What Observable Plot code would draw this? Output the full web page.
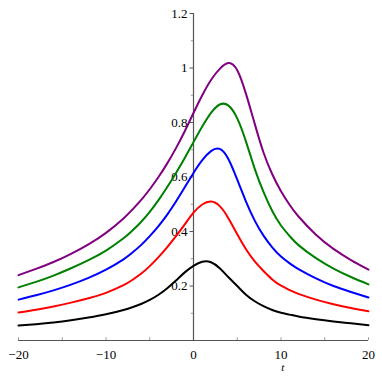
<!DOCTYPE html>
<html>
<head>
<meta charset="utf-8">
<script src="https://cdn.jsdelivr.net/npm/d3@7"></script>
<script src="https://cdn.jsdelivr.net/npm/@observablehq/plot@0.6"></script>
<style>
  html, body { margin: 0; padding: 0; background: #fff; }
  #chart svg { display: block; }
  #chart svg text { font-family: "Liberation Serif", "Times New Roman", "DejaVu Serif", serif !important; }
</style>
</head>
<body>
<div id="chart"></div>
<script>
// Curve samples (t, value)
const tGrid   = [-20, -18, -16, -14, -12, -10, -8, -7, -6, -5, -4, -3, -2, -1, 0, 1, 2, 3, 4, 5, 6, 7, 8, 9, 10, 11, 12, 14, 16, 18, 20];
const yBlack  = [0.055, 0.060, 0.066, 0.074, 0.084, 0.096, 0.112, 0.122, 0.134, 0.149, 0.168, 0.192, 0.220, 0.250, 0.274, 0.289, 0.287, 0.265, 0.232, 0.200, 0.168, 0.144, 0.126, 0.112, 0.102, 0.095, 0.088, 0.078, 0.070, 0.063, 0.056];
const yRed    = [0.103, 0.113, 0.125, 0.139, 0.155, 0.175, 0.203, 0.222, 0.245, 0.273, 0.306, 0.343, 0.383, 0.426, 0.469, 0.499, 0.510, 0.493, 0.448, 0.390, 0.335, 0.290, 0.255, 0.224, 0.201, 0.185, 0.171, 0.150, 0.133, 0.119, 0.107];
const yBlue   = [0.150, 0.166, 0.184, 0.205, 0.230, 0.260, 0.298, 0.322, 0.350, 0.383, 0.420, 0.462, 0.510, 0.562, 0.615, 0.662, 0.695, 0.703, 0.665, 0.590, 0.510, 0.440, 0.385, 0.342, 0.308, 0.283, 0.262, 0.228, 0.200, 0.178, 0.158];
const yGreen  = [0.195, 0.215, 0.238, 0.265, 0.295, 0.330, 0.375, 0.403, 0.435, 0.472, 0.515, 0.563, 0.615, 0.670, 0.728, 0.785, 0.835, 0.866, 0.862, 0.815, 0.730, 0.630, 0.545, 0.475, 0.422, 0.383, 0.350, 0.302, 0.264, 0.233, 0.206];
const yPurple = [0.240, 0.263, 0.288, 0.318, 0.353, 0.395, 0.448, 0.480, 0.515, 0.555, 0.600, 0.650, 0.706, 0.768, 0.835, 0.900, 0.956, 0.997, 1.018, 0.992, 0.905, 0.795, 0.690, 0.610, 0.548, 0.497, 0.455, 0.388, 0.336, 0.295, 0.260];

const seriesNames  = ["black", "red", "blue", "green", "purple"];
const seriesColors = ["#000000", "#ff0000", "#0000ff", "#008000", "#800080"];

const xTickValues = [-20, -10, 0, 10, 20];
const xTickLabels = ["\u221220", "\u221210", "0", "10", "20"];
const xMinorTicks = [-20, -15, -10, -5, 5, 10, 15, 20];
const yTickValues = [0.2, 0.4, 0.6, 0.8, 1, 1.2];
const yTickLabels = ["0.2", "0.4", "0.6", "0.8", "1", "1.2"];
const yMinorTicks = [0.1, 0.3, 0.5, 0.7, 0.9, 1.1];
const xAxisLabel = "t";

const allY = [yBlack, yRed, yBlue, yGreen, yPurple];
const rows = [];
allY.forEach((ys, i) => ys.forEach((v, j) => rows.push({series: seriesNames[i], t: tGrid[j], v})));

const xTicksData = xTickValues.map((v, i) => ({v, label: xTickLabels[i]}));
const yTicksData = yTickValues.map((v, i) => ({v, label: yTickLabels[i]}));
const axisColor = "#555";
const fontFam = "Liberation Serif, serif";

const chart = Plot.plot({
  width: 382,
  height: 382,
  marginTop: 13,
  marginBottom: 42,
  marginLeft: 18,
  marginRight: 14,
  style: {fontFamily: fontFam, fontSize: "13px", background: "#fff"},
  x: {domain: [-20, 20], axis: null},
  y: {domain: [0, 1.2], axis: null},
  color: {domain: seriesNames, range: seriesColors},
  marks: [
    Plot.text(yTicksData, {x: 0, y: "v", text: "label", textAnchor: "end", dx: -6, fill: "#000", fontSize: 13, fontFamily: fontFam}),
    Plot.ruleY([0], {x1: -20, x2: 20, stroke: axisColor, strokeWidth: 1.2}),
    Plot.ruleX([0], {y1: 0, y2: 1.2, stroke: axisColor, strokeWidth: 1.2}),
    Plot.ruleY(yTickValues, {x1: 0, x2: -0.4, stroke: axisColor}),
    Plot.ruleY(yMinorTicks, {x1: 0, x2: -0.25, stroke: "#999"}),
    Plot.ruleX(xMinorTicks, {y1: 0, y2: 0.01, stroke: "#999"}),
    Plot.text(xTicksData, {x: "v", y: 0, text: "label", dy: 14, fill: "#000", fontSize: 13, fontFamily: fontFam}),
    Plot.text([xAxisLabel], {x: 10.2, y: 0, text: d => d, dy: 27, fontStyle: "italic", fontSize: 11, fill: "#000", fontFamily: fontFam}),
    Plot.line(rows, {x: "t", y: "v", z: "series", stroke: "series", strokeWidth: 2, curve: "natural"})
  ]
});
document.getElementById("chart").appendChild(chart);
</script>
</body>
</html>
